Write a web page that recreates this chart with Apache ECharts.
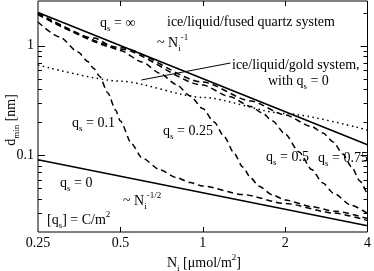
<!DOCTYPE html>
<html><head><meta charset="utf-8">
<script src="https://cdn.jsdelivr.net/npm/echarts@6/dist/echarts.min.js"></script>
<style>html,body{margin:0;padding:0;background:#fff}#c{width:374px;height:271px}</style>
</head><body><div id="c"></div>
<script>
// ---- data ----
const xTickValues = [0.25, 0.5, 1, 2, 4];
const yMajorTicks = [0.1, 1];
const yMinorTicks = [0.03,0.04,0.05,0.06,0.07,0.08,0.09,0.2,0.3,0.4,0.5,0.6,0.7,0.8,0.9,2];
const qsInf = [[0.25,2.0],[4,0.125]];
const qs0 = [[0.25,0.091],[4,0.0228]];
const gold = [[0.25,0.665],[0.5,0.474],[1,0.337],[2,0.24],[4,0.17]];
const qs01 = [[0.25,1.641],[0.3,1.198],[0.35,0.874],[0.38,0.716],[0.4,0.618],[0.42,0.523],[0.45,0.370],[0.48,0.259],[0.5,0.205],[0.55,0.127],[0.6,0.0945],[0.7,0.0735],[0.8,0.0627],[0.9,0.0565],[1,0.0525],[1.4,0.0439],[2,0.0364],[3,0.0298],[4,0.0254]];
const qs025 = [[0.25,1.92],[0.4,1.17],[0.5,0.902],[0.6,0.709],[0.7,0.557],[0.8,0.442],[0.9,0.347],[1,0.267],[1.1,0.201],[1.2,0.1468],[1.3,0.105],[1.4,0.0782],[1.5,0.0621],[1.6,0.0525],[1.8,0.0435],[2,0.0391],[2.5,0.0341],[3,0.0311],[4,0.0265]];
const qs05 = [[0.25,1.962],[0.5,0.931],[1,0.437],[1.25,0.3436],[1.5,0.2786],[1.65,0.2429],[1.8,0.2054],[2,0.1563],[2.25,0.1072],[2.5,0.0742],[2.75,0.0559],[3,0.0453],[3.5,0.0349],[4,0.0295]];
const qs075 = [[0.25,1.983],[0.5,0.961],[1,0.4658],[1.5,0.3126],[2,0.233],[2.5,0.183],[2.75,0.1597],[3,0.1322],[3.25,0.1027],[3.5,0.0782],[3.75,0.0583],[4,0.0435]];
const pointer = [[0.597,0.486],[1.262,0.694]];
const X_MIN = 0.25, X_MAX = 4, Y_MIN = 0.02, Y_MAX = 2.55;

const FONT = 'Liberation Serif';
const chart = echarts.init(document.getElementById('c'), null, {renderer:'canvas'});

function line(name, data, type, width, smooth){
  return {type:'line', name, data, showSymbol:false, symbol:'none', silent:true,
    smooth: smooth===undefined ? 0.25 : smooth, smoothMonotone:'x',
    lineStyle:{color:'#000', width:width||1.5, type:type||'solid', cap:'butt'}, z:3};
}
const rich = {
  sb:{fontSize:9, lineHeight:9, verticalAlign:'bottom', fontFamily:FONT, color:'#000'},
  sp:{fontSize:9, lineHeight:9, verticalAlign:'top', fontFamily:FONT, color:'#000'}
};
function T(x, y, text, opts){
  opts = opts || {};
  return {type:'text', x, y, rotation: opts.rot||0, silent:true, z:10,
    style:{text, fontSize:14, fontFamily:FONT, lineHeight:20, fill:'#000',
      align: opts.align||'left', verticalAlign:'middle',
      textAlign: opts.align||'left', textVerticalAlign:'middle', rich}};
}
function fmt(v){ return String(+(+v).toPrecision(6)); }

const tickData = yMajorTicks.map(v=>[X_MIN, v, 7]).concat(yMinorTicks.map(v=>[X_MIN, v, 4]));
const xTickData = xTickValues.slice(1, -1).map(v=>[v, Y_MIN, 5]);

chart.setOption({
  animation:false,
  backgroundColor:'#fff',
  grid:{left:38, right:6, top:1, height:231, show:true, borderColor:'#000', borderWidth:1, backgroundColor:'transparent'},
  xAxis:{type:'log', logBase:2, min:X_MIN, max:X_MAX,
    axisLine:{show:false}, axisTick:{show:false}, splitLine:{show:false},
    axisLabel:{fontFamily:FONT, fontSize:14, color:'#000', margin:4, hideOverlap:false,
      formatter:v=> xTickValues.some(t=>Math.abs(t-v)<1e-6) ? fmt(v) : ''}},
  yAxis:{type:'log', logBase:10, min:Y_MIN, max:Y_MAX,
    axisLine:{show:false}, axisTick:{show:false}, splitLine:{show:false},
    axisLabel:{fontFamily:FONT, fontSize:14, color:'#000', margin:4, hideOverlap:false,
      formatter:v=> yMajorTicks.some(t=>Math.abs(t-v)<1e-6) ? fmt(v) : ''}},
  series:[
    line('qsInf', qsInf, 'solid', 1.6, false),
    line('qs0', qs0, 'solid', 1.6, false),
    line('gold', gold, [1.5,3.5], 1.5),
    line('qs01', qs01, [6,4], 1.5),
    line('qs025', qs025, [6,4], 1.5),
    line('qs05', qs05, [6,4], 1.5),
    line('qs075', qs075, [6,4], 1.5),
    line('pointer', pointer, 'solid', 1, false),
    {type:'custom', data:tickData, encode:{x:0,y:1}, silent:true, z:5,
      renderItem:(params, api)=>{
        const cs = params.coordSys; const len = api.value(2);
        const p = api.coord([api.value(0), api.value(1)]);
        const y = Math.round(p[1]) + 0.5;
        return {type:'group', children:[
          {type:'line', shape:{x1:cs.x, y1:y, x2:cs.x+len, y2:y}, style:{stroke:'#000', lineWidth:1}},
          {type:'line', shape:{x1:cs.x+cs.width, y1:y, x2:cs.x+cs.width-len, y2:y}, style:{stroke:'#000', lineWidth:1}}
        ]};
      }},
    {type:'custom', data:xTickData, encode:{x:0,y:1}, silent:true, z:5,
      renderItem:(params, api)=>{
        const cs = params.coordSys; const len = api.value(2);
        const p = api.coord([api.value(0), api.value(1)]);
        const x = Math.round(p[0]) + 0.5;
        return {type:'group', children:[
          {type:'line', shape:{x1:x, y1:cs.y+cs.height, x2:x, y2:cs.y+cs.height-len}, style:{stroke:'#000', lineWidth:1}},
          {type:'line', shape:{x1:x, y1:cs.y, x2:x, y2:cs.y+len}, style:{stroke:'#000', lineWidth:1}}
        ]};
      }}
  ],
  graphic:[
    T(100, 23, 'q{sb|s} = ∞'),
    T(167, 22, 'ice/liquid/fused quartz system'),
    T(157, 43, '~ N{sb|i}{sp|-1}'),
    T(232, 65, 'ice/liquid/gold system,'),
    T(268, 81, 'with q{sb|s} = 0'),
    T(72, 123, 'q{sb|s} = 0.1'),
    T(163, 131, 'q{sb|s} = 0.25'),
    T(266, 157, 'q{sb|s} = 0.5'),
    T(318, 158, 'q{sb|s} = 0.75'),
    T(60, 183, 'q{sb|s} = 0'),
    T(123, 201, '~ N{sb|i}{sp|-1/2}'),
    T(47, 220, '[q{sb|s}] = C/m{sp|2}'),
    T(204, 263, 'N{sb|i} [μmol/m{sp|2}]', {align:'center'}),
    T(11, 120, 'd{sb|min} [nm]', {align:'center', rot:Math.PI/2})
  ]
});
</script></body></html>
